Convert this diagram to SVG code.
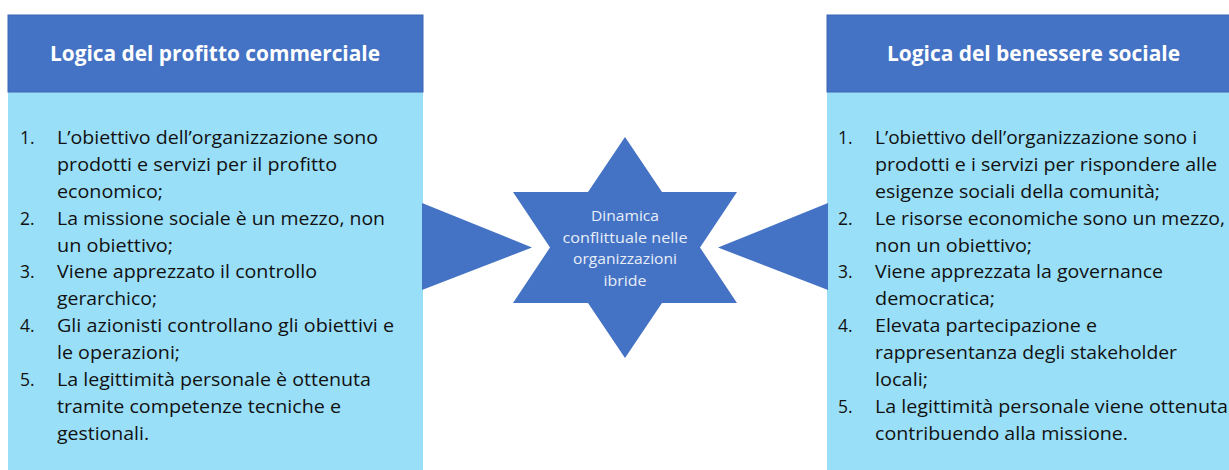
<svg xmlns="http://www.w3.org/2000/svg" width="1229" height="470" viewBox="0 0 1229 470">
  <style>
    .head { fill: #4472C4; stroke: #3B66B5; stroke-width: 1; }
    .body { fill: #9ADFF8; }
    .shape { fill: #4472C4; }
    text { font-variant-ligatures: none; }
    .title { font-family: "Open Sans", Lato, sans-serif; font-weight: bold; font-size: 21px; fill: #FFFFFF; }
    .item { font-family: "Open Sans", Lato, sans-serif; font-size: 17.5px; fill: #111111; }
    .star-text { font-family: "Open Sans", Lato, sans-serif; font-size: 14.5px; fill: #E8EEF8; text-anchor: middle; }
  </style>

  <!-- Left panel: commercial profit logic -->
  <g id="node-profitto">
    <rect class="body" x="8" y="92" width="415" height="380"/>
    <rect class="head" x="8" y="15" width="415" height="77"/>
    <text class="title" x="50" y="61" textLength="330" lengthAdjust="spacingAndGlyphs">Logica del profitto commerciale</text>
    <g class="item">
      <text x="20" y="144">1.</text>
      <text x="57" y="144" textLength="321" lengthAdjust="spacingAndGlyphs">L’obiettivo dell’organizzazione sono</text>
      <text x="57" y="171" textLength="280" lengthAdjust="spacingAndGlyphs">prodotti e servizi per il profitto</text>
      <text x="57" y="198" textLength="106" lengthAdjust="spacingAndGlyphs">economico;</text>
      <text x="20" y="225">2.</text>
      <text x="57" y="225" textLength="328" lengthAdjust="spacingAndGlyphs">La missione sociale è un mezzo, non</text>
      <text x="57" y="252" textLength="116" lengthAdjust="spacingAndGlyphs">un obiettivo;</text>
      <text x="20" y="278">3.</text>
      <text x="57" y="278" textLength="260" lengthAdjust="spacingAndGlyphs">Viene apprezzato il controllo</text>
      <text x="57" y="305" textLength="100" lengthAdjust="spacingAndGlyphs">gerarchico;</text>
      <text x="20" y="332">4.</text>
      <text x="57" y="332" textLength="337" lengthAdjust="spacingAndGlyphs">Gli azionisti controllano gli obiettivi e</text>
      <text x="57" y="359" textLength="123" lengthAdjust="spacingAndGlyphs">le operazioni;</text>
      <text x="20" y="386">5.</text>
      <text x="57" y="386" textLength="314" lengthAdjust="spacingAndGlyphs">La legittimità personale è ottenuta</text>
      <text x="57" y="413" textLength="284" lengthAdjust="spacingAndGlyphs">tramite competenze tecniche e</text>
      <text x="57" y="440" textLength="92" lengthAdjust="spacingAndGlyphs">gestionali.</text>
    </g>
  </g>

  <!-- Right panel: social welfare logic -->
  <g id="node-benessere">
    <rect class="body" x="827" y="92" width="412" height="380"/>
    <rect class="head" x="827" y="15" width="412" height="77"/>
    <text class="title" x="887" y="61" textLength="293" lengthAdjust="spacingAndGlyphs">Logica del benessere sociale</text>
    <g class="item">
      <text x="838" y="144">1.</text>
      <text x="875" y="144" textLength="322" lengthAdjust="spacingAndGlyphs">L’obiettivo dell’organizzazione sono i</text>
      <text x="875" y="171" textLength="342" lengthAdjust="spacingAndGlyphs">prodotti e i servizi per rispondere alle</text>
      <text x="875" y="198" textLength="285" lengthAdjust="spacingAndGlyphs">esigenze sociali della comunità;</text>
      <text x="838" y="225">2.</text>
      <text x="875" y="225" textLength="350" lengthAdjust="spacingAndGlyphs">Le risorse economiche sono un mezzo,</text>
      <text x="875" y="252" textLength="157" lengthAdjust="spacingAndGlyphs">non un obiettivo;</text>
      <text x="838" y="278">3.</text>
      <text x="875" y="278" textLength="288" lengthAdjust="spacingAndGlyphs">Viene apprezzata la governance</text>
      <text x="875" y="305" textLength="120" lengthAdjust="spacingAndGlyphs">democratica;</text>
      <text x="838" y="332">4.</text>
      <text x="875" y="332" textLength="222" lengthAdjust="spacingAndGlyphs">Elevata partecipazione e</text>
      <text x="875" y="359" textLength="302" lengthAdjust="spacingAndGlyphs">rappresentanza degli stakeholder</text>
      <text x="875" y="386" textLength="53" lengthAdjust="spacingAndGlyphs">locali;</text>
      <text x="838" y="413">5.</text>
      <text x="875" y="413" textLength="353" lengthAdjust="spacingAndGlyphs">La legittimità personale viene ottenuta</text>
      <text x="875" y="440" textLength="253" lengthAdjust="spacingAndGlyphs">contribuendo alla missione.</text>
    </g>
  </g>

  <!-- Wedge connectors pointing at the centre -->
  <g id="connectors">
    <polygon class="shape" points="422,203 532,247.5 422,290"/>
    <polygon class="shape" points="828,203 718,247.5 828,290"/>
  </g>

  <!-- Central six-pointed star -->
  <g id="node-dinamica">
    <polygon class="shape" points="625,137 662,192 737,192 700,247.5 737,303 662,303 625,358 588,303 513,303 550,247.5 513,192 588,192"/>
    <text class="star-text" x="625" y="221" textLength="68" lengthAdjust="spacingAndGlyphs">Dinamica</text>
    <text class="star-text" x="625" y="242.5" textLength="125" lengthAdjust="spacingAndGlyphs">conflittuale nelle</text>
    <text class="star-text" x="625" y="264" textLength="104" lengthAdjust="spacingAndGlyphs">organizzazioni</text>
    <text class="star-text" x="625" y="285.5" textLength="43" lengthAdjust="spacingAndGlyphs">ibride</text>
  </g>
</svg>
